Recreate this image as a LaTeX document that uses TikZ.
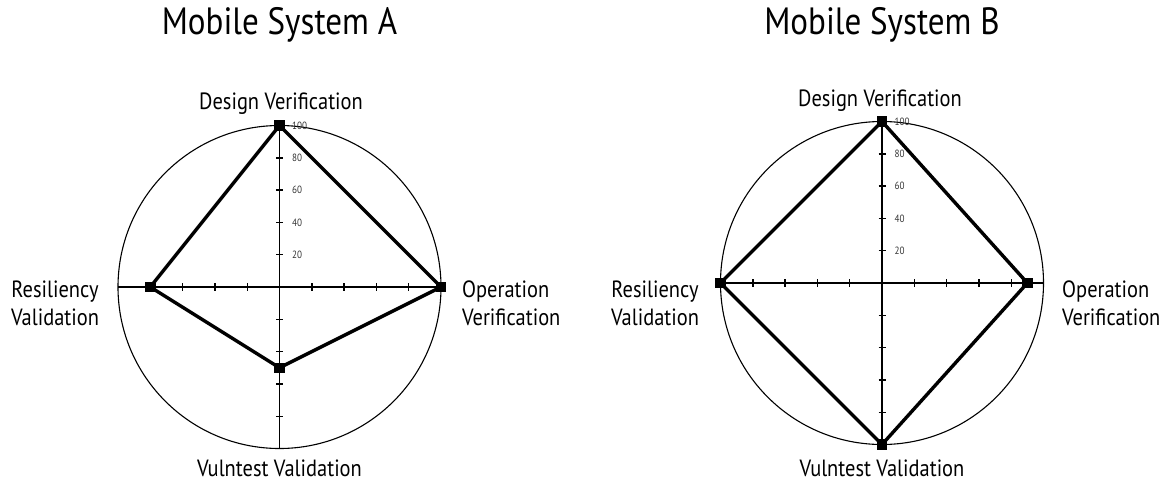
\documentclass[tikz,border=0pt]{standalone}
\usepackage{fontspec}
\setmainfont[FakeStretch=0.87]{PT Sans}
\begin{document}
\begin{tikzpicture}[x=1pt,y=-1pt]
\tikzset{
  ring/.style={line width=1.1pt},
  axisline/.style={line width=1.4pt},
  poly/.style={line width=3.4pt,line join=miter},
  marker/.style={fill=black,draw=none,minimum size=10.5pt,inner sep=0pt},
  ticklbl/.style={font=\fontsize{10.5}{12}\selectfont,text=black!80,anchor=west,inner sep=0pt},
  axlbl/.style={font=\fontsize{23.5}{28}\selectfont,inner sep=0pt},
  charttitle/.style={font=\fontsize{38}{44}\selectfont,inner sep=0pt,anchor=base},
}
\def\radR{161.5}
\def\radS{32.3}
\def\radU{1.615}
% #1 prefix, #2 cx, #3 cy, #4..#7 scores: top, right, bottom, left
\newcommand\radarplot[7]{%
  \begin{scope}[shift={(#2,#3)}]
    \draw[ring] (0,0) circle[radius=\radR];
    \draw[axisline] (-\radR,0) -- (\radR,0);
    \draw[axisline] (0,-\radR) -- (0,\radR);
    \foreach \k in {1,...,4} {
      \draw[axisline] (\k*\radS,-4) -- (\k*\radS,4);
      \draw[axisline] (-\k*\radS,-4) -- (-\k*\radS,4);
      \draw[axisline] (-3.5,\k*\radS) -- (3.5,\k*\radS);
      \draw[axisline] (-3.5,-\k*\radS) -- (3.5,-\k*\radS);
    }
    \foreach \k in {1,...,5}
      \node[ticklbl] (#1t\k) at (12.5,-\k*\radS) {\number\numexpr\k*20\relax};
    \node[marker] (#1top) at (0,-#4*\radU) {};
    \node[marker] (#1right) at (#5*\radU,0) {};
    \node[marker] (#1bottom) at (0,#6*\radU) {};
    \node[marker] (#1left) at (-#7*\radU,0) {};
    \draw[poly] (#1top.center) -- (#1right.center) -- (#1bottom.center)
      -- (#1left.center) -- cycle;
  \end{scope}}

\useasboundingbox[fill=white] (0,0) rectangle (1168,491);

% Mobile System A
\radarplot{a}{279.5}{287}{100}{100}{50}{80}
\node[charttitle] (titleA) at (279.5,34) {Mobile System A};
\node[axlbl,anchor=base] (aDV) at (281,109) {Design Verification};
\node[axlbl,align=center] (aRV) at (55,303) {Resiliency\\Validation};
\node[axlbl,align=left,anchor=west] (aOV) at (462,303) {Operation\\Verification};
\node[axlbl,anchor=base] (aVV) at (279.5,476) {Vulntest Validation};

% Mobile System B
\radarplot{b}{882}{283}{100}{90}{100}{100}
\node[charttitle] (titleB) at (882,34) {Mobile System B};
\node[axlbl,anchor=base] (bDV) at (880,106) {Design Verification};
\node[axlbl,align=center] (bRV) at (655,303) {Resiliency\\Validation};
\node[axlbl,align=left,anchor=west] (bOV) at (1062,303) {Operation\\Verification};
\node[axlbl,anchor=base] (bVV) at (882,476) {Vulntest Validation};
\end{tikzpicture}
\end{document}
